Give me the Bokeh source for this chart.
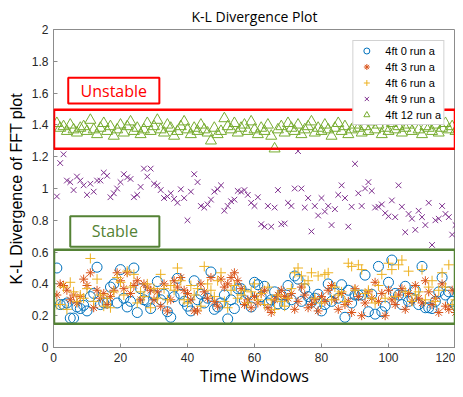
from bokeh.plotting import figure
from bokeh.models import BoxAnnotation, Label, FixedTicker, Range1d
from bokeh.embed import file_html
from bokeh.resources import INLINE

# ---------------- data ----------------
time_windows = list(range(1, 121))

kl_4ft0 = [0.50, 0.27, 0.27, 0.28, 0.185, 0.185, 0.255, 0.245, 0.265, 0.23,
           0.32, 0.34, 0.505, 0.27, 0.28, 0.28, 0.38, 0.40, 0.28, 0.49,
           0.31, 0.255, 0.29, 0.50, 0.22, 0.37, 0.30, 0.29, 0.245, 0.33,
           0.415, 0.30, 0.335, 0.225, 0.19, 0.32, 0.435, 0.335, 0.29, 0.26,
           0.23, 0.42, 0.30, 0.335, 0.28, 0.31, 0.475, 0.24, 0.255, 0.28,
           0.33, 0.18, 0.30, 0.245, 0.37, 0.37, 0.295, 0.335, 0.255, 0.41,
           0.395, 0.32, 0.385, 0.28, 0.30, 0.35, 0.275, 0.33, 0.27, 0.39,
           0.30, 0.45, 0.43, 0.29, 0.37, 0.32, 0.285, 0.31, 0.335, 0.23,
           0.27, 0.40, 0.29, 0.34, 0.31, 0.395, 0.19, 0.36, 0.28, 0.33,
           0.33, 0.33, 0.455, 0.225, 0.335, 0.21, 0.51, 0.225, 0.26, 0.41,
           0.55, 0.34, 0.33, 0.27, 0.385, 0.29, 0.31, 0.36, 0.27, 0.51,
           0.25, 0.25, 0.245, 0.29, 0.35, 0.44, 0.33, 0.35, 0.29, 0.27]

kl_4ft3 = [0.33, 0.40, 0.39, 0.36, 0.30, 0.33, 0.28, 0.32, 0.43, 0.39,
           0.47, 0.25, 0.36, 0.31, 0.34, 0.27, 0.32, 0.36, 0.47, 0.42,
           0.37, 0.47, 0.34, 0.39, 0.42, 0.30, 0.40, 0.38, 0.36, 0.30,
           0.35, 0.26, 0.40, 0.23, 0.30, 0.42, 0.38, 0.44, 0.36, 0.34,
           0.30, 0.23, 0.23, 0.40, 0.35, 0.31, 0.44, 0.29, 0.26, 0.43,
           0.38, 0.40, 0.44, 0.47, 0.42, 0.37, 0.27, 0.30, 0.25, 0.32,
           0.28, 0.34, 0.36, 0.25, 0.22, 0.30, 0.33, 0.36, 0.32, 0.31,
           0.34, 0.24, 0.29, 0.38, 0.33, 0.25, 0.27, 0.30, 0.23, 0.32,
           0.29, 0.36, 0.39, 0.30, 0.24, 0.34, 0.27, 0.29, 0.22, 0.37,
           0.32, 0.20, 0.28, 0.35, 0.31, 0.41, 0.29, 0.34, 0.20, 0.36,
           0.30, 0.27, 0.33, 0.37, 0.24, 0.34, 0.29, 0.39, 0.31, 0.28,
           0.42, 0.35, 0.27, 0.31, 0.22, 0.40, 0.26, 0.24, 0.36, 0.22]

kl_4ft6 = [0.27, 0.27, 0.38, 0.24, 0.41, 0.35, 0.29, 0.33, 0.31, 0.37,
           0.56, 0.29, 0.43, 0.33, 0.26, 0.31, 0.25, 0.35, 0.44, 0.41,
           0.33, 0.48, 0.38, 0.46, 0.28, 0.35, 0.32, 0.40, 0.25, 0.37,
           0.31, 0.46, 0.37, 0.30, 0.39, 0.36, 0.50, 0.42, 0.30, 0.28,
           0.39, 0.33, 0.37, 0.26, 0.51, 0.40, 0.36, 0.32, 0.42, 0.47,
           0.29, 0.25, 0.36, 0.39, 0.31, 0.33, 0.36, 0.28, 0.35, 0.40,
           0.30, 0.34, 0.27, 0.38, 0.30, 0.24, 0.33, 0.29, 0.26, 0.31,
           0.37, 0.47, 0.50, 0.45, 0.40, 0.42, 0.47, 0.31, 0.45, 0.28,
           0.46, 0.47, 0.30, 0.38, 0.33, 0.35, 0.29, 0.53, 0.51, 0.36,
           0.52, 0.49, 0.34, 0.36, 0.31, 0.28, 0.39, 0.46, 0.31, 0.53,
           0.49, 0.32, 0.52, 0.55, 0.35, 0.48, 0.29, 0.33, 0.35, 0.49,
           0.30, 0.38, 0.42, 0.29, 0.36, 0.47, 0.38, 0.52, 0.27, 0.30]

kl_4ft9 = [0.95, 1.16, 1.215, 1.05, 1.04, 0.99, 1.075, 1.05, 1.02, 0.96,
           1.03, 0.98, 1.05, 1.05, 1.10, 1.08, 0.945, 0.97, 1.00, 1.04,
           1.09, 1.07, 1.06, 0.945, 0.96, 1.01, 1.125, 1.075, 1.125, 1.03,
           1.02, 0.99, 0.94, 0.95, 0.97, 0.935, 0.91, 0.995, 0.94, 0.80,
           0.98, 1.09, 1.04, 0.89, 0.88, 0.90, 0.93, 0.98, 0.995, 1.02,
           0.86, 0.89, 0.92, 0.93, 0.985, 0.98, 0.99, 0.96, 0.91, 0.89,
           0.945, 0.775, 0.76, 0.89, 0.76, 0.88, 0.99, 0.775, 0.78, 0.91,
           0.89, 1.00, 1.235, 1.00, 0.88, 0.94, 0.73, 0.89, 0.83, 0.94,
           0.855, 0.89, 0.77, 0.87, 0.96, 1.02, 0.94, 0.76, 0.885, 1.155,
           0.97, 0.89, 1.00, 1.04, 0.985, 0.88, 0.885, 0.90, 0.845, 0.825,
           0.925, 0.82, 1.02, 0.885, 0.725, 0.84, 0.81, 0.74, 0.86, 0.82,
           0.77, 0.91, 0.645, 0.80, 0.81, 0.89, 0.84, 0.82, 0.71, 0.77]

kl_4ft12 = [1.41, 1.38, 1.39, 1.36, 1.40, 1.37, 1.35, 1.38, 1.39, 1.36,
            1.43, 1.37, 1.34, 1.38, 1.41, 1.36, 1.39, 1.33, 1.37, 1.40,
            1.35, 1.39, 1.42, 1.36, 1.38, 1.34, 1.37, 1.41, 1.36, 1.39,
            1.43, 1.37, 1.35, 1.40, 1.38, 1.33, 1.36, 1.39, 1.42, 1.37,
            1.34, 1.38, 1.36, 1.40, 1.37, 1.35, 1.30, 1.38, 1.34, 1.36,
            1.44, 1.39, 1.37, 1.41, 1.35, 1.38, 1.40, 1.36, 1.42, 1.37,
            1.34, 1.38, 1.36, 1.40, 1.33, 1.25, 1.37, 1.39, 1.35, 1.41,
            1.38, 1.36, 1.40, 1.34, 1.37, 1.39, 1.42, 1.35, 1.38, 1.36,
            1.40, 1.37, 1.33, 1.38, 1.41, 1.36, 1.39, 1.34, 1.37, 1.40,
            1.38, 1.35, 1.39, 1.36, 1.42, 1.37, 1.40, 1.34, 1.38, 1.36,
            1.41, 1.37, 1.39, 1.35, 1.38, 1.40, 1.36, 1.43, 1.37, 1.34,
            1.39, 1.38, 1.36, 1.40, 1.35, 1.38, 1.41, 1.37, 1.39, 1.36]

series_labels = ["4ft 0 run a", "4ft 3 run a", "4ft 6 run a", "4ft 9 run a", "4ft 12 run a"]

x_ticks = [0, 20, 40, 60, 80, 100, 120]
y_ticks = [0, 0.2, 0.4, 0.6, 0.8, 1, 1.2, 1.4, 1.6, 1.8, 2]
y_tick_labels = ["0", "0.2", "0.4", "0.6", "0.8", "1", "1.2", "1.4", "1.6", "1.8", "2"]

# ---------------- figure ----------------
AX = "#262626"
AXLINE = "#8c8c8c"

p = figure(width=455, height=389, output_backend="svg", toolbar_location=None,
           x_range=Range1d(0, 120), y_range=Range1d(0, 2),
           min_border_left=53, min_border_right=0, min_border_top=27, min_border_bottom=40,
           title="K-L Divergence Plot")
p.title.align = "center"
p.title.text_font = "Open Sans"
p.title.text_font_size = "14px"
p.title.text_font_style = "normal"
p.title.text_color = "#000000"
p.title.standoff = 8

p.xgrid.visible = False
p.ygrid.visible = False
p.outline_line_color = AXLINE
p.background_fill_color = "white"
p.border_fill_color = "white"

for ax in p.xaxis:
    ax.ticker = FixedTicker(ticks=x_ticks)
    ax.axis_label = "Time Windows"
for ax in p.yaxis:
    ax.ticker = FixedTicker(ticks=y_ticks)
    ax.major_label_overrides = {v: s for v, s in zip(y_ticks, y_tick_labels)}
    ax.axis_label = "K-L Divergence of FFT plot"

for ax in p.xaxis + p.yaxis:
    ax.major_tick_in = 4
    ax.major_tick_out = 0
    ax.minor_tick_line_color = None
    ax.axis_line_color = AXLINE
    ax.major_tick_line_color = AXLINE
    ax.major_label_text_font = "Liberation Sans"
    ax.major_label_text_font_size = "12px"
    ax.major_label_text_color = AX
    ax.axis_label_text_font_style = "normal"
    ax.axis_label_text_color = "#000000"

p.xaxis.axis_label_text_font = "Open Sans"
p.xaxis.axis_label_text_font_size = "16px"
p.xaxis.major_label_standoff = 5
p.xaxis.axis_label_standoff = 0
p.yaxis.axis_label_text_font = "Liberation Sans"
p.yaxis.axis_label_text_font_size = "16px"
p.yaxis.major_label_standoff = 5
p.yaxis.axis_label_standoff = 4

# ---------------- annotation boxes ----------------
box_kw = dict(fill_alpha=0, line_alpha=1)
p.add_layout(BoxAnnotation(left=0.15, right=119.85, bottom=1.25, top=1.495,
                           line_color="#ff0000", line_width=2.5, **box_kw))
p.add_layout(BoxAnnotation(left=0.15, right=119.85, bottom=0.15, top=0.615,
                           line_color="#548235", line_width=2.5, **box_kw))
p.add_layout(BoxAnnotation(left=4.4, right=31.6, bottom=1.534, top=1.696,
                           line_color="#ff0000", line_width=2, **box_kw))
p.add_layout(BoxAnnotation(left=5.0, right=31.6, bottom=0.634, top=0.826,
                           line_color="#548235", line_width=2, **box_kw))
p.add_layout(Label(x=18.0, y=1.615, text="Unstable", text_align="center", text_baseline="middle",
                   text_font="Open Sans", text_font_size="16px", text_color="#ff0000"))
p.add_layout(Label(x=18.3, y=0.73, text="Stable", text_align="center", text_baseline="middle",
                   text_font="Open Sans", text_font_size="16px", text_color="#548235"))

# ---------------- series ----------------
p.scatter(time_windows, kl_4ft0, marker="circle", size=10, fill_color=None,
          line_color="#0072BD", line_width=1, legend_label=series_labels[0])
p.scatter(time_windows, kl_4ft3, marker="asterisk", size=9,
          line_color="#D95319", line_width=1, legend_label=series_labels[1])
p.scatter(time_windows, kl_4ft6, marker="cross", size=10,
          line_color="#EDB120", line_width=1, legend_label=series_labels[2])
p.scatter(time_windows, kl_4ft9, marker="x", size=8,
          line_color="#7E2F8E", line_width=1, legend_label=series_labels[3])
p.scatter(time_windows, kl_4ft12, marker="triangle", size=11, fill_color=None,
          line_color="#77AC30", line_width=1, legend_label=series_labels[4])

lg = p.legend[0]
lg.location = "top_right"
lg.margin = 11
lg.padding = 2
lg.spacing = 1
lg.label_height = 15
lg.glyph_height = 15
lg.glyph_width = 22
lg.label_standoff = 8
lg.label_text_font = "Liberation Sans"
lg.label_text_font_size = "11px"
lg.label_text_color = "#000000"
lg.border_line_color = "#a6a6a6"
lg.background_fill_alpha = 1

open("out.html", "w").write(file_html(p, INLINE))
